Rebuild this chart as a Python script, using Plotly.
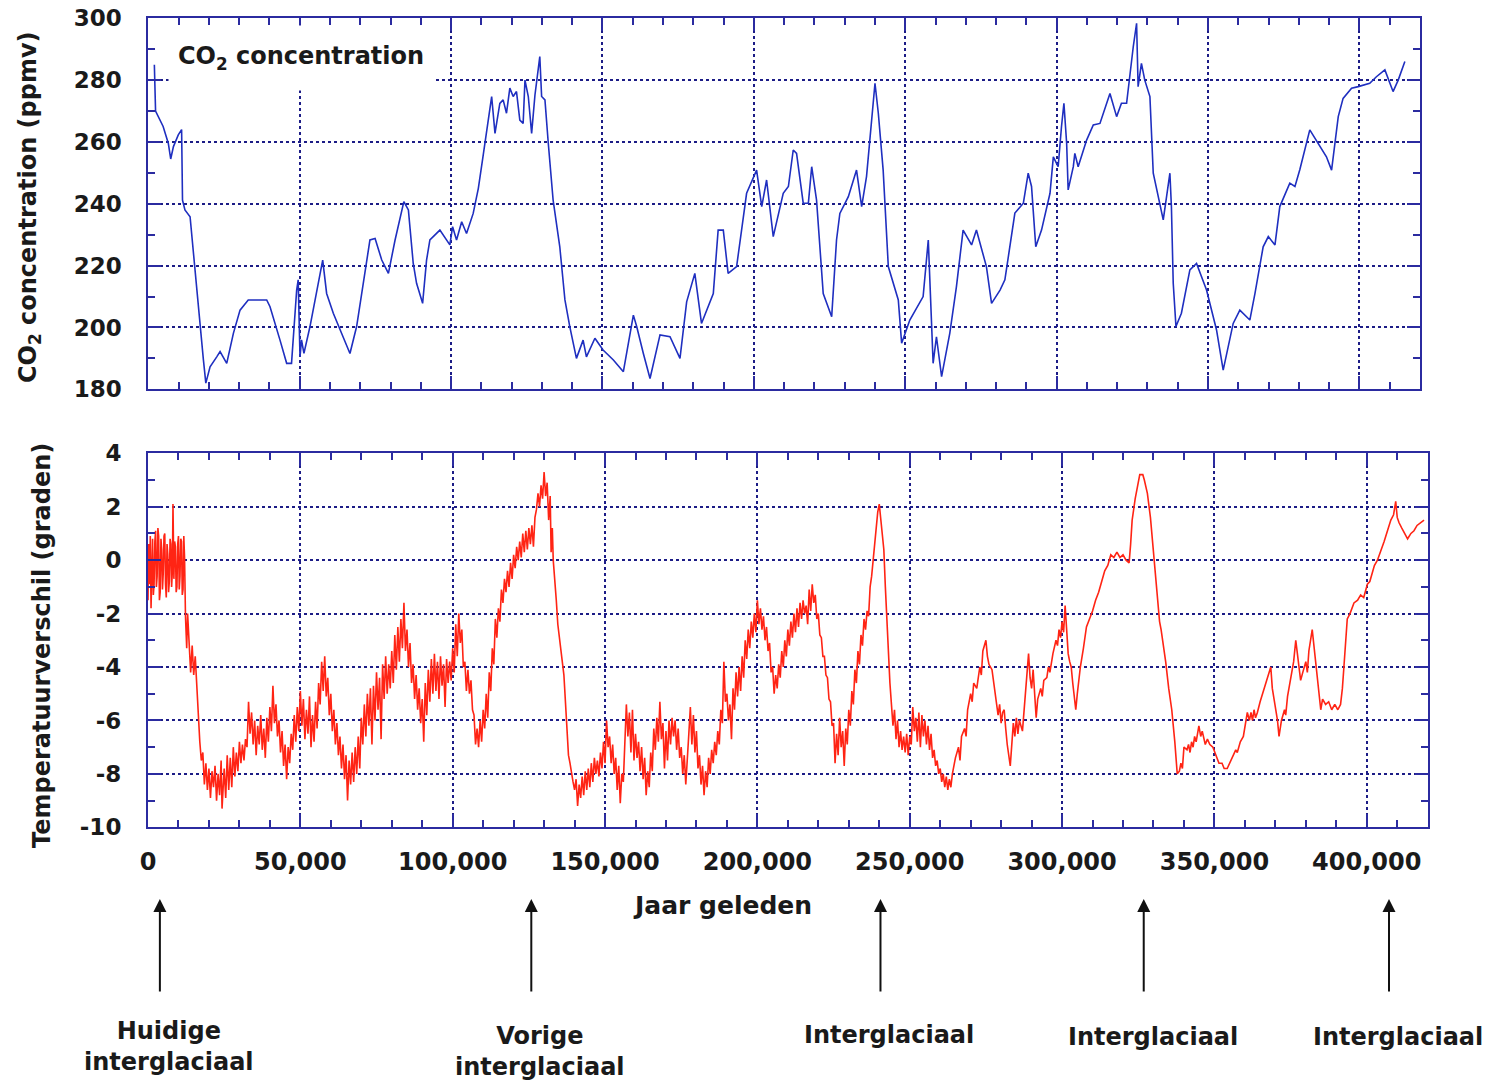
import plotly.graph_objects as go

# Vostok ice core: CO2 (ppmv) and temperature difference (deg C) vs. age (thousand years BP)
co2_record = [
    (2.0, 285.0), (2.4, 270.0), (4.9, 265.0), (6.6, 259.6), (7.4, 254.5), (8.3, 258.5),
    (9.9, 262.3), (11.0, 264.0), (11.3, 241.2), (12.1, 238.0), (13.8, 235.8), (14.9, 224.0),
    (16.0, 212.0), (17.1, 199.2), (18.2, 189.5), (19.0, 182.0), (20.4, 187.3), (22.6, 190.5),
    (23.7, 192.2), (25.9, 188.4), (28.1, 198.1), (30.3, 205.6), (33.0, 208.9), (39.1, 208.9),
    (40.2, 206.7), (43.5, 195.9), (45.7, 188.4), (47.3, 188.4), (48.4, 205.6), (49.0, 212.1),
    (49.5, 215.4), (50.1, 190.5), (50.6, 196.0), (51.4, 191.6), (53.4, 200.3), (56.7, 217.5),
    (57.6, 221.8), (58.9, 211.0), (61.1, 204.6), (66.6, 191.6), (68.8, 200.3), (73.2, 228.3),
    (74.9, 228.8), (77.1, 221.8), (79.3, 217.5), (81.5, 228.3), (83.1, 234.8), (84.4, 240.7),
    (85.9, 238.0), (87.5, 220.7), (88.6, 214.3), (90.6, 207.8), (91.9, 221.8), (93.0, 228.3),
    (96.3, 231.5), (99.6, 226.7), (100.5, 232.6), (101.8, 228.3), (103.5, 234.2), (105.1, 230.4),
    (107.3, 236.9), (109.0, 245.0), (110.5, 255.0), (111.7, 262.8), (113.4, 274.7), (114.5, 262.8),
    (116.1, 272.5), (117.2, 273.6), (118.3, 269.3), (119.4, 277.4), (120.5, 274.7), (121.6, 276.3),
    (122.7, 267.1), (123.8, 266.0), (124.4, 280.0), (125.5, 274.7), (126.6, 262.8), (127.7, 275.2),
    (129.3, 287.6), (129.9, 274.7), (131.0, 273.6), (132.1, 259.6), (133.7, 241.2), (135.9, 226.1),
    (137.6, 208.9), (139.2, 200.3), (141.4, 190.0), (143.6, 195.9), (144.7, 190.5), (147.5, 196.5),
    (150.2, 192.7), (153.6, 189.5), (156.9, 185.7), (160.2, 204.0), (161.3, 200.3), (163.5, 191.6),
    (165.7, 183.5), (169.0, 197.6), (172.3, 197.0), (175.6, 190.0), (177.8, 208.3), (180.5, 217.5),
    (182.7, 201.3), (186.6, 211.0), (188.2, 231.5), (189.9, 231.5), (191.5, 217.5), (194.3, 219.7),
    (196.5, 234.8), (197.6, 243.4), (200.9, 250.9), (202.6, 239.1), (204.2, 247.7), (206.4, 229.4),
    (209.7, 243.4), (211.4, 245.6), (213.0, 257.4), (214.1, 256.3), (216.3, 240.2), (218.0, 240.2),
    (219.1, 252.0), (220.7, 241.2), (222.9, 211.0), (225.7, 203.5), (227.3, 228.3), (228.4, 236.9),
    (231.2, 242.3), (233.9, 250.9), (235.6, 239.1), (237.2, 248.8), (240.0, 279.0), (241.1, 269.3),
    (242.7, 250.9), (244.4, 219.7), (247.7, 208.9), (248.8, 194.9), (251.5, 202.4), (255.9, 210.0),
    (257.6, 228.3), (259.2, 188.4), (260.3, 197.0), (262.0, 184.1), (264.7, 198.1), (266.9, 213.2),
    (269.1, 231.5), (271.9, 226.7), (273.5, 231.5), (276.8, 219.7), (278.5, 207.8), (281.3, 212.1),
    (282.9, 215.4), (286.2, 237.0), (289.0, 240.2), (290.6, 249.9), (291.7, 245.6), (293.1, 226.1),
    (295.0, 231.5), (297.8, 243.4), (298.9, 255.2), (300.5, 252.0), (301.6, 265.0), (302.4, 272.5),
    (303.3, 259.6), (303.8, 244.5), (305.5, 252.0), (306.0, 256.3), (307.1, 252.0), (309.9, 260.6),
    (312.1, 265.5), (314.3, 266.0), (317.6, 275.7), (319.8, 268.2), (321.4, 272.5), (323.1, 272.5),
    (325.3, 290.8), (326.4, 298.4), (326.9, 277.9), (328.0, 285.4), (329.1, 280.0), (330.8, 274.7),
    (331.9, 249.9), (334.1, 240.2), (335.2, 234.8), (336.3, 242.3), (337.4, 249.9), (337.9, 239.1),
    (338.5, 214.3), (339.4, 200.3), (341.2, 204.6), (344.0, 218.6), (346.2, 220.7), (349.5, 212.1),
    (351.2, 205.6), (352.8, 199.2), (355.0, 186.2), (358.3, 201.3), (360.5, 205.6), (363.8, 202.4),
    (365.5, 211.0), (368.2, 226.1), (369.9, 229.4), (372.1, 226.7), (373.7, 239.1), (377.0, 246.7),
    (378.7, 245.6), (380.3, 251.0), (383.6, 263.9), (386.9, 258.5), (389.1, 255.2), (390.8, 250.9),
    (391.9, 260.6), (393.0, 268.2), (394.6, 274.1), (397.4, 277.4), (399.6, 277.9), (403.4, 279.0),
    (405.6, 281.1), (408.4, 283.3), (411.1, 276.3), (412.8, 280.0), (415.0, 286.0),
]

temp_record = [
    (0.0, -1.5), (0.25, 0.6), (0.5, -0.9), (0.75, 0.9), (1.0, -1.8), (1.25, 0.2), (1.5, 0.8),
    (1.75, -1.3), (2.0, -0.9), (2.25, 0.7), (2.5, 1.1), (2.75, -1.0), (3.0, -0.6), (3.25, 1.2),
    (3.5, 0.9), (3.75, -1.5), (4.0, -1.2), (4.25, 0.8), (4.5, 0.4), (4.75, -1.1), (5.0, -0.5),
    (5.25, 0.9), (5.5, 1.0), (5.75, -0.9), (6.0, -1.4), (6.25, 0.6), (6.5, 0.2), (6.75, -1.2),
    (7.0, -0.8), (7.25, 0.8), (7.5, 0.6), (7.75, -1.0), (8.0, -0.4), (8.2, 2.1), (8.5, -0.7),
    (8.75, 0.7), (9.0, 0.5), (9.25, -1.2), (9.5, -1.0), (9.75, 0.6), (10.0, 0.9), (10.25, -1.1),
    (10.5, -0.6), (10.75, 0.8), (11.0, 0.7), (11.25, -1.3), (11.5, -1.1), (11.75, 0.9),
    (12.0, 0.1), (12.3, -2.1), (12.7, -3.3),
    (13.0, -2.0), (13.5, -3.0), (14.0, -4.2), (14.5, -3.2), (15.0, -4.3), (15.5, -3.6), (16.0, -4.8),
    (16.5, -5.6), (17.0, -6.8), (17.5, -7.5), (18.0, -7.2), (18.5, -8.4), (19.0, -7.6), (19.5, -8.6),
    (20.0, -7.8), (20.5, -8.9), (21.0, -7.9), (21.5, -8.5), (22.0, -7.7), (22.5, -9.0), (23.0, -8.0),
    (23.5, -8.8), (24.0, -7.5), (24.3, -9.3), (25.0, -7.8), (25.5, -8.9), (26.0, -7.3), (26.5, -8.6),
    (27.0, -7.4), (27.5, -8.5), (28.0, -7.0), (28.5, -8.1), (29.0, -7.2), (29.5, -7.9), (30.0, -6.8),
    (30.5, -7.6), (31.0, -6.9), (31.5, -7.5), (32.0, -6.7), (32.5, -7.0), (33.0, -5.3), (33.5, -6.5),
    (34.0, -5.7), (34.5, -6.9), (35.0, -6.0), (35.5, -7.3), (36.0, -6.2), (36.5, -6.9), (37.0, -5.8),
    (37.5, -7.1), (38.0, -6.3), (38.5, -7.4), (39.0, -5.9), (39.5, -6.8), (40.0, -5.5), (40.5, -6.4),
    (41.0, -4.7), (41.5, -6.1), (42.0, -5.4), (42.5, -6.6), (43.0, -6.0), (43.5, -7.2), (44.0, -6.4),
    (44.5, -7.7), (45.0, -6.9), (45.5, -8.2), (46.0, -7.0), (46.5, -7.6), (47.0, -6.5), (47.5, -7.1),
    (48.0, -5.8), (48.5, -6.8), (49.0, -5.5), (49.5, -6.4), (50.0, -4.9), (50.5, -6.2), (51.0, -5.2),
    (51.5, -6.7), (52.0, -5.6), (52.5, -6.5), (53.0, -5.1), (53.5, -7.0), (54.0, -5.8), (54.5, -6.8),
    (55.0, -5.3), (55.5, -6.3), (56.0, -4.6), (56.5, -5.4), (57.0, -3.8), (57.5, -4.9), (58.0, -3.6),
    (58.5, -5.1), (59.0, -4.4), (59.5, -5.8), (60.0, -5.0), (60.5, -6.4), (61.0, -5.6), (61.5, -6.9),
    (62.0, -6.1), (62.5, -7.3), (63.0, -6.6), (63.5, -7.8), (64.0, -6.9), (64.5, -8.2), (65.0, -7.3),
    (65.5, -9.0), (66.0, -7.5), (66.5, -8.4), (67.0, -7.2), (67.5, -8.3), (68.0, -7.0), (68.5, -8.0),
    (69.0, -6.6), (69.5, -7.8), (70.0, -5.9), (70.5, -6.9), (71.0, -5.4), (71.5, -6.6), (72.0, -5.0),
    (72.5, -6.2), (73.0, -4.8), (73.5, -6.9), (74.0, -4.7), (74.5, -6.0), (75.0, -4.2), (75.5, -5.6),
    (76.0, -4.4), (76.5, -6.7), (77.0, -3.9), (77.5, -5.2), (78.0, -3.6), (78.5, -5.0), (79.0, -3.9),
    (79.5, -4.8), (80.0, -3.4), (80.5, -4.6), (81.0, -2.8), (81.5, -4.1), (82.0, -2.5), (82.5, -3.8),
    (83.0, -2.2), (83.5, -3.3), (84.0, -1.6), (84.5, -3.4), (85.0, -2.6), (85.5, -4.0), (86.0, -3.1),
    (86.5, -4.6), (87.0, -3.9), (87.5, -5.2), (88.0, -4.3), (88.5, -5.6), (89.0, -4.8), (89.5, -6.1),
    (90.0, -5.2), (90.5, -6.8), (91.0, -4.6), (91.5, -5.8), (92.0, -4.1), (92.5, -5.3), (93.0, -3.7),
    (93.5, -5.0), (94.0, -3.5), (94.5, -4.9), (95.0, -3.8), (95.5, -5.2), (96.0, -3.6), (96.5, -4.7),
    (97.0, -3.9), (97.5, -5.5), (98.0, -3.7), (98.5, -4.6), (99.0, -3.8), (99.5, -4.5), (100.0, -3.3),
    (100.5, -4.2), (101.0, -2.4), (101.5, -3.6), (102.0, -2.0), (102.5, -3.1), (103.0, -2.6),
    (103.5, -4.0), (104.0, -3.8), (104.5, -4.9), (105.0, -4.1), (105.5, -5.0), (106.0, -4.5),
    (106.5, -5.6), (107.0, -5.8), (107.5, -6.9), (108.0, -6.3), (108.5, -7.0), (109.0, -6.0),
    (109.5, -6.8), (110.0, -5.6), (110.5, -6.3), (111.0, -5.0), (111.5, -5.9), (112.0, -4.2),
    (112.5, -4.9), (113.0, -3.3), (113.5, -3.9), (114.0, -2.2), (114.5, -2.9), (115.0, -1.8),
    (115.5, -2.3), (116.0, -1.1), (116.5, -1.6), (117.0, -0.7), (117.5, -1.2), (118.0, -0.4),
    (118.5, -1.0), (119.0, -0.1), (119.5, -0.7), (120.0, 0.2), (120.5, -0.3), (121.0, 0.5),
    (121.5, 0.0), (122.0, 0.7), (122.5, 0.1), (123.0, 1.0), (123.5, 0.3), (124.0, 1.1), (124.5, 0.4),
    (125.0, 1.2), (125.5, 0.6), (126.0, 1.3), (126.5, 0.5), (127.0, 1.6), (127.5, 1.9), (128.0, 2.5),
    (128.5, 2.0), (129.0, 2.8), (129.5, 2.3), (130.0, 3.3), (130.5, 2.4), (131.0, 2.9), (131.5, 1.5),
    (132.0, 2.4), (132.3, 0.3), (132.7, 1.2), (133.0, 0.0), (133.5, -0.6), (134.0, -1.5), (134.5, -2.4),
    (135.0, -2.9), (135.5, -3.4), (136.0, -3.9), (136.5, -4.3), (137.0, -5.3), (137.5, -6.5),
    (138.0, -7.3), (138.5, -7.6), (139.0, -8.0), (139.5, -8.3), (140.0, -8.6), (140.5, -8.2),
    (141.0, -9.2), (141.5, -8.4), (142.0, -8.9), (142.5, -8.1), (143.0, -8.8), (143.5, -7.9),
    (144.0, -8.6), (144.5, -7.8), (145.0, -8.5), (145.5, -7.6), (146.0, -8.3), (146.5, -7.4),
    (147.0, -8.0), (147.5, -7.5), (148.0, -8.1), (148.5, -7.2), (149.0, -7.8), (149.5, -6.8),
    (150.0, -7.6), (150.5, -6.0), (151.0, -7.0), (151.5, -6.6), (152.0, -7.6), (152.5, -6.9),
    (153.0, -8.0), (153.5, -7.4), (154.0, -8.6), (154.5, -7.7), (155.0, -9.1), (155.5, -8.0),
    (156.0, -8.3), (156.5, -7.1), (157.0, -5.4), (157.5, -6.6), (158.0, -5.7), (158.5, -7.2),
    (159.0, -5.6), (159.5, -7.5), (160.0, -6.5), (160.5, -7.4), (161.0, -6.8), (161.5, -7.9),
    (162.0, -7.0), (162.5, -8.2), (163.0, -7.4), (163.5, -8.8), (164.0, -7.9), (164.5, -8.5),
    (165.0, -7.2), (165.5, -7.9), (166.0, -6.3), (166.5, -7.1), (167.0, -5.9), (167.5, -6.8),
    (168.0, -5.3), (168.5, -6.7), (169.0, -6.1), (169.5, -7.8), (170.0, -6.4), (170.5, -7.5),
    (171.0, -6.0), (171.5, -6.9), (172.0, -5.9), (172.5, -6.6), (173.0, -6.0), (173.5, -7.1),
    (174.0, -6.3), (174.5, -7.4), (175.0, -7.0), (175.5, -8.0), (176.0, -7.3), (176.5, -8.4),
    (177.0, -7.6), (177.5, -6.5), (178.0, -5.5), (178.5, -6.9), (179.0, -5.8), (179.5, -7.2),
    (180.0, -6.4), (180.5, -7.8), (181.0, -7.3), (181.5, -8.4), (182.0, -7.7), (182.5, -8.8),
    (183.0, -7.9), (183.5, -8.5), (184.0, -7.4), (184.5, -8.0), (185.0, -7.1), (185.5, -7.6),
    (186.0, -6.8), (186.5, -7.3), (187.0, -6.4), (187.5, -6.9), (188.0, -5.6), (188.5, -6.1),
    (189.0, -3.8), (189.5, -5.3), (190.0, -5.0), (190.5, -6.0), (191.0, -5.4), (191.5, -6.7),
    (192.0, -4.8), (192.5, -5.6), (193.0, -4.2), (193.5, -5.1), (194.0, -4.0), (194.5, -4.9),
    (195.0, -3.6), (195.5, -4.4), (196.0, -3.0), (196.5, -3.7), (197.0, -2.6), (197.5, -3.3),
    (198.0, -2.3), (198.5, -2.9), (199.0, -2.0), (199.5, -2.7), (200.0, -1.5), (200.5, -2.4),
    (201.0, -1.8), (201.5, -2.6), (202.0, -2.1), (202.5, -3.0), (203.0, -2.5), (203.5, -3.4),
    (204.0, -3.1), (204.5, -4.2), (205.0, -4.0), (205.5, -5.0), (206.0, -4.3), (206.5, -4.8),
    (207.0, -3.9), (207.5, -4.4), (208.0, -3.4), (208.5, -4.0), (209.0, -3.0), (209.5, -3.6),
    (210.0, -2.6), (210.5, -3.2), (211.0, -2.3), (211.5, -2.9), (212.0, -2.0), (212.5, -2.7),
    (213.0, -1.8), (213.5, -2.5), (214.0, -1.6), (214.5, -2.2), (215.0, -1.5), (215.5, -2.0),
    (216.0, -1.7), (216.5, -2.4), (217.0, -1.1), (217.5, -1.9), (218.0, -0.9), (218.5, -1.6),
    (219.0, -1.3), (219.5, -2.2), (220.0, -2.0), (220.5, -2.8), (221.0, -2.9), (221.5, -3.6),
    (222.0, -3.6), (222.5, -4.3), (223.0, -4.4), (223.5, -5.2), (224.0, -5.3), (224.5, -6.2),
    (225.0, -6.1), (225.5, -7.6), (226.0, -6.5), (226.5, -7.3), (227.0, -5.9), (227.5, -7.0),
    (228.0, -6.4), (228.5, -7.7), (229.0, -6.3), (229.5, -6.9), (230.0, -5.6), (230.5, -6.2),
    (231.0, -4.9), (231.5, -5.4), (232.0, -4.1), (232.5, -4.6), (233.0, -3.4), (233.5, -3.9),
    (234.0, -2.8), (234.5, -3.2), (235.0, -2.2), (235.5, -2.6), (236.0, -1.9), (236.5, -2.1),
    (237.0, -1.0), (237.5, -0.6), (238.0, 0.0), (238.5, 0.6), (239.0, 1.2), (239.5, 1.8),
    (240.0, 2.1), (240.5, 1.6), (241.0, 1.0), (241.5, 0.4), (242.0, -1.0), (242.5, -2.4),
    (243.0, -3.6), (243.5, -4.6), (244.0, -5.4), (244.5, -6.2), (245.0, -5.6), (245.5, -6.7),
    (246.0, -6.0), (246.5, -7.0), (247.0, -6.4), (247.5, -7.1), (248.0, -6.6), (248.5, -7.2),
    (249.0, -6.5), (249.5, -7.3), (250.0, -6.6), (250.5, -6.9), (251.0, -5.5), (251.5, -6.4),
    (252.0, -5.9), (252.5, -6.8), (253.0, -5.7), (253.5, -7.0), (254.0, -5.8), (254.5, -6.6),
    (255.0, -6.0), (255.5, -6.9), (256.0, -6.2), (256.5, -7.1), (257.0, -6.5), (257.5, -7.4),
    (258.0, -7.1), (258.5, -7.7), (259.0, -7.5), (259.5, -8.0), (260.0, -7.8), (260.5, -8.3),
    (261.0, -8.0), (261.5, -8.5), (262.0, -8.1), (262.5, -8.6), (263.0, -8.2), (263.5, -8.5),
    (264.0, -8.0), (264.5, -7.6), (265.0, -7.4), (266.0, -7.0), (266.5, -7.5), (267.0, -6.6),
    (268.0, -6.3), (268.5, -6.6), (269.0, -5.6), (270.0, -5.0), (270.5, -5.3), (271.0, -4.6),
    (272.0, -4.8), (273.0, -4.0), (273.5, -4.3), (274.0, -3.4), (275.0, -3.0), (275.5, -3.6),
    (276.0, -3.9), (277.0, -4.1), (278.0, -5.0), (279.0, -5.8), (279.5, -5.4), (280.0, -6.1),
    (280.5, -5.7), (281.0, -5.6), (281.5, -6.3), (282.0, -6.9), (283.0, -7.7), (283.5, -6.9),
    (284.0, -6.1), (284.5, -6.6), (285.0, -5.9), (285.5, -6.5), (286.0, -6.0), (287.0, -6.4),
    (287.5, -5.6), (288.0, -5.0), (288.5, -4.2), (289.0, -3.5), (289.5, -4.4), (290.0, -4.8),
    (290.5, -4.1), (291.0, -5.0), (291.5, -5.9), (292.0, -5.2), (293.0, -4.8), (293.5, -5.1),
    (294.0, -4.5), (295.0, -4.4), (295.5, -4.0), (296.0, -4.2), (297.0, -3.5), (298.0, -3.0),
    (298.5, -3.2), (299.0, -2.6), (299.5, -2.9), (300.0, -2.3), (300.5, -2.7), (301.0, -1.7),
    (301.5, -2.8), (302.0, -3.5), (302.5, -3.8), (303.0, -4.0), (303.5, -4.6), (304.0, -5.2),
    (304.5, -5.6), (305.0, -5.0), (305.5, -4.4), (306.0, -4.0), (307.0, -3.3), (308.0, -2.5),
    (309.0, -2.2), (310.0, -1.9), (311.0, -1.5), (312.0, -1.2), (313.0, -0.8), (314.0, -0.4),
    (315.0, -0.2), (316.0, 0.2), (317.0, 0.1), (318.0, 0.3), (319.0, 0.1), (320.0, 0.2),
    (321.0, 0.0), (322.0, -0.1), (322.5, 0.6), (323.0, 1.5), (324.0, 2.3), (325.0, 3.0),
    (325.5, 3.2), (326.5, 3.2), (327.0, 3.0), (328.0, 2.5), (329.0, 1.6), (330.0, 0.3),
    (331.0, -1.0), (332.0, -2.3), (332.5, -2.6), (333.0, -3.0), (334.0, -3.8), (335.0, -4.8),
    (336.0, -5.6), (337.0, -6.8), (337.8, -8.0), (338.5, -7.9), (339.0, -7.6), (339.5, -7.8),
    (340.0, -7.0), (341.0, -7.1), (341.5, -6.9), (342.0, -7.2), (342.5, -6.8), (343.0, -7.0),
    (343.5, -6.6), (344.0, -6.8), (344.9, -6.2), (345.5, -6.6), (346.0, -6.4), (347.0, -6.9),
    (347.7, -6.7), (348.5, -6.9), (349.5, -7.0), (350.5, -7.3), (351.5, -7.6), (352.5, -7.6),
    (353.2, -7.8), (354.2, -7.8), (355.0, -7.6), (356.0, -7.4), (357.0, -7.1), (357.5, -7.2),
    (358.5, -6.8), (359.5, -6.6), (360.0, -6.3), (360.8, -5.7), (361.5, -6.0), (362.0, -5.7),
    (362.5, -6.0), (363.0, -5.6), (363.5, -5.9), (364.1, -5.7), (365.0, -5.3), (366.3, -4.8),
    (367.0, -4.6), (368.0, -4.2), (368.5, -4.0), (369.0, -4.8), (369.5, -5.2), (370.1, -5.6),
    (370.7, -6.0), (371.2, -6.6), (372.0, -6.0), (373.0, -5.6), (373.4, -5.8), (374.0, -5.1),
    (375.0, -4.5), (376.0, -3.8), (376.7, -3.0), (377.3, -3.5), (378.3, -4.5), (379.0, -4.2),
    (380.0, -3.8), (380.5, -4.2), (381.0, -3.4), (382.1, -2.6), (383.2, -3.8), (384.0, -4.6),
    (384.9, -5.6), (385.5, -5.2), (386.5, -5.4), (387.5, -5.3), (388.5, -5.6), (389.5, -5.4),
    (390.5, -5.6), (391.4, -5.4), (392.0, -4.8), (392.5, -4.0), (393.0, -3.0), (393.6, -2.2),
    (394.5, -2.0), (395.8, -1.6), (397.0, -1.5), (398.0, -1.3), (399.0, -1.4), (400.2, -0.9),
    (401.0, -0.8), (401.8, -0.5), (402.5, -0.2), (403.5, 0.0), (404.5, 0.3), (405.7, 0.7),
    (406.8, 1.1), (407.9, 1.5), (408.8, 1.7), (409.5, 2.2), (410.0, 1.6), (410.6, 1.4),
    (411.5, 1.2), (412.5, 1.0), (413.4, 0.8), (414.5, 1.0), (415.5, 1.1), (416.5, 1.3),
    (417.5, 1.4), (418.8, 1.5),
]

# Interglacial periods marked below the chart (thousand years BP)
interglacial_ages_kyr = [3.9, 125.8, 240.4, 326.8, 407.3]
interglacial_labels = ["Huidige<br>interglaciaal", "Vorige<br>interglaciaal",
                       "Interglaciaal", "Interglaciaal", "Interglaciaal"]
interglacial_label_y_px = [1046, 1051, 1035, 1037, 1037]

co2_ticks = [180, 200, 220, 240, 260, 280, 300]
temp_ticks = [-10, -8, -6, -4, -2, 0, 2, 4]
age_ticks = [0, 50000, 100000, 150000, 200000, 250000, 300000, 350000, 400000]

co2_x = [k * 1000 for k, _ in co2_record]
co2_y = [v for _, v in co2_record]
temp_x = [k * 1000 for k, _ in temp_record]
temp_y = [v for _, v in temp_record]

W, H = 1488, 1083


def fx(px):
    return px / W


def fy(px):
    return 1 - px / H


FRAME = "#2b2ba0"
GRID = "#1c1c86"
TEXT = "#1a1a1a"
FAMILY = "DejaVu Sans"

fig = go.Figure()
fig.add_trace(go.Scatter(x=co2_x, y=co2_y, mode="lines",
                         line=dict(color="#1f2fc0", width=1.6),
                         xaxis="x", yaxis="y", hoverinfo="skip"))
fig.add_trace(go.Scatter(x=temp_x, y=temp_y, mode="lines",
                         line=dict(color="#ff2414", width=1.6),
                         xaxis="x2", yaxis="y2", hoverinfo="skip"))

axis_common = dict(
    ticks="inside", ticklen=13, tickwidth=2, tickcolor=FRAME,
    showline=True, linecolor=FRAME, linewidth=2, mirror="ticks",
    showgrid=True, gridcolor=GRID, griddash="dot", gridwidth=1.6,
    zeroline=False,
)


def x_axis(domain, show_labels):
    return dict(
        domain=domain, range=[0, 420000], tickvals=age_ticks,
        ticktext=[f"{v:,}" for v in age_ticks], showticklabels=show_labels,
        tickfont=dict(family=FAMILY, size=24, color=TEXT, weight="bold"),
        ticklabelstandoff=12,
        minor=dict(dtick=10000, tick0=0, ticks="inside", ticklen=7,
                   tickwidth=2, tickcolor=FRAME, showgrid=False),
        **axis_common,
    )


def y_axis(domain, rng, ticks, minor_step, anchor):
    return dict(
        domain=domain, range=rng, tickvals=ticks, ticktext=[str(t) for t in ticks],
        tickfont=dict(family=FAMILY, size=23, color=TEXT, weight="bold"),
        ticklabelstandoff=20, anchor=anchor,
        minor=dict(dtick=minor_step, tick0=rng[0], ticks="inside", ticklen=7,
                   tickwidth=2, tickcolor=FRAME, showgrid=False),
        **axis_common,
    )


fig.update_layout(
    width=W, height=H, margin=dict(l=0, r=0, t=0, b=0, autoexpand=False),
    paper_bgcolor="white", plot_bgcolor="white", showlegend=False,
    xaxis=x_axis([fx(148.3), fx(1420)], False) | dict(anchor="y"),
    yaxis=y_axis([fy(389.3), fy(18.3)], [180, 300], co2_ticks, 10, "x"),
    xaxis2=x_axis([fx(148), fx(1427.7)], True) | dict(anchor="y2"),
    yaxis2=y_axis([fy(827.3), fy(453.3)], [-10, 4], temp_ticks, 1, "x2"),
)

label_font = dict(family=FAMILY, size=24, color=TEXT, weight="bold")
annotations = [
    # panel caption on a white box
    dict(text="CO<sub>2</sub> concentration", x=fx(301), y=fy(58), xref="paper", yref="paper",
         showarrow=False, bgcolor="white", width=262, height=62,
         xanchor="center", yanchor="middle", font=label_font),
    dict(text="CO<sub>2</sub> concentration (ppmv)", x=fx(30), y=fy(207), xref="paper",
         yref="paper", showarrow=False, textangle=-90, xanchor="center", yanchor="middle",
         font=label_font),
    dict(text="Temperatuurverschil (graden)", x=fx(42), y=fy(646), xref="paper", yref="paper",
         showarrow=False, textangle=-90, xanchor="center", yanchor="middle", font=label_font),
    dict(text="Jaar geleden", x=fx(722), y=fy(905), xref="paper", yref="paper",
         showarrow=False, xanchor="center", yanchor="middle",
         font=dict(family=FAMILY, size=25, color=TEXT, weight="bold")),
]

for age, label, ly in zip(interglacial_ages_kyr, interglacial_labels, interglacial_label_y_px):
    annotations.append(dict(
        text="", x=age * 1000, xref="x2", y=fy(899), yref="paper",
        showarrow=True, ax=0, ay=94, axref="pixel", ayref="pixel",
        arrowhead=2, arrowsize=1.3, arrowwidth=2, arrowcolor="#111111", standoff=0,
    ))
    annotations.append(dict(
        text=label, x=age * 1000, xref="x2", xshift=9, y=fy(ly), yref="paper",
        showarrow=False, xanchor="center", yanchor="middle", align="center",
        font=label_font,
    ))

fig.update_layout(annotations=annotations)

fig.write_html("out.html")
